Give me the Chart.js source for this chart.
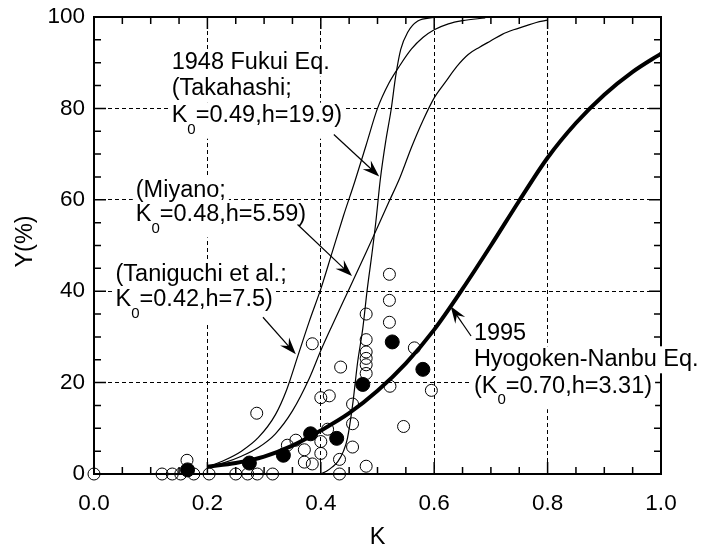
<!DOCTYPE html>
<html>
<head>
<meta charset="utf-8">
<script src="https://cdn.jsdelivr.net/npm/chart.js@4.4.0/dist/chart.umd.min.js"></script>
<style>
  html, body { margin: 0; padding: 0; background: #fff; }
  canvas { display: block; }
</style>
</head>
<body>
<canvas id="chart" width="702" height="549"></canvas>
<script>
// ===== DATA =====
const xTicks = [0, 0.2, 0.4, 0.6, 0.8, 1.0];
const xTickLabels = ['0.0', '0.2', '0.4', '0.6', '0.8', '1.0'];
const yTicks = [0, 20, 40, 60, 80, 100];
const yTickLabels = ['0', '20', '40', '60', '80', '100'];

// observed damage ratios (open = single sites, filled = averaged)
const openK = [0, 0.12, 0.138, 0.153, 0.176, 0.164, 0.203, 0.25, 0.271, 0.288, 0.315, 0.287, 0.385, 0.341, 0.356,
  0.371, 0.371, 0.385, 0.4, 0.415, 0.4, 0.4, 0.412, 0.435, 0.433, 0.433, 0.456, 0.456, 0.456,
  0.48, 0.48, 0.48, 0.48, 0.48, 0.48, 0.48, 0.521, 0.521, 0.521, 0.522, 0.546, 0.565, 0.595];
const openY = [0, 0, 0, 0, 0, 3.0, 0, 0, 0, 0, 0, 13.3, 28.5, 6.3, 7.4,
  5.3, 2.6, 2.2, 16.7, 17.1, 7.1, 4.5, 9.8, 23.4, 3.2, 0, 15.3, 11.0, 5.9,
  1.7, 35.0, 29.4, 26.7, 25.3, 23.9, 22.0, 43.7, 38.0, 33.2, 19.2, 10.4, 27.6, 18.3];
const filledK = [0.165, 0.274, 0.334, 0.382, 0.428, 0.474, 0.526, 0.58];
const filledY = [0.9, 2.4, 4.1, 8.8, 7.8, 19.6, 28.9, 22.9];

// fitted curves
const hyogoK = [0.2, 0.25, 0.3, 0.35, 0.4, 0.45, 0.5, 0.55, 0.6, 0.65, 0.7, 0.75, 0.8, 0.85, 0.9, 0.95, 1.0];
const hyogoY = [1.6, 2.4, 3.8, 6.2, 9.5, 13.3, 18.2, 24.2, 31.6, 40.5, 50, 59.8, 69.2, 76.8, 83, 88, 92];
const taniK = [0.2, 0.23, 0.26, 0.29, 0.32, 0.34, 0.36, 0.38, 0.4, 0.42, 0.44, 0.46, 0.48, 0.5, 0.52, 0.54, 0.56, 0.58, 0.6, 0.625, 0.65, 0.69];
const taniY = [1.5, 3, 5, 8, 13, 18.5, 26, 33.5, 40.5, 48.5, 56.5, 64, 72, 80, 85.5, 89.5, 93, 95.5, 97.2, 98.5, 99.2, 99.8];
const miyanoK = [0.2, 0.23, 0.26, 0.29, 0.32, 0.35, 0.38, 0.4, 0.42, 0.45, 0.48, 0.5, 0.52, 0.54, 0.56, 0.58, 0.6, 0.62, 0.64, 0.66, 0.68, 0.7, 0.72, 0.74, 0.76, 0.78, 0.8];
const miyanoY = [1.5, 2.5, 3.9, 5.8, 8.8, 13.8, 21, 27, 32.5, 40.5, 48.5, 54, 59.5, 65, 71.5, 77.3, 82.3, 85.8, 89.2, 91.8, 93.4, 94.8, 96.2, 97.2, 98, 98.8, 99.3];
const fukuiK = [0.4, 0.41, 0.42, 0.43, 0.44, 0.447, 0.456, 0.465, 0.474, 0.482, 0.49, 0.497, 0.505, 0.515, 0.524, 0.532, 0.541, 0.553, 0.571, 0.6];
const fukuiY = [0, 0.6, 1.5, 2.7, 5, 7.8, 15, 24.5, 31.8, 40.5, 48, 55.1, 64.5, 73.2, 79.7, 87, 92.9, 96.6, 99.1, 99.9];

// ===== ANNOTATIONS (data coords) =====
const notes = [
  { k: 0.137, y: 90.0, segs: ['1948 Fukui Eq.'] },
  { k: 0.137, y: 84.3, segs: ['(Takahashi;'] },
  { k: 0.137, y: 78.4, segs: ['K', { sub: '0' }, '=0.49,h=19.9)'] },
  { k: 0.0737, y: 62.0, segs: ['(Miyano;'] },
  { k: 0.0737, y: 56.8, segs: ['K', { sub: '0' }, '=0.48,h=5.59)'] },
  { k: 0.038, y: 43.7, segs: ['(Taniguchi et al.;'] },
  { k: 0.038, y: 38.2, segs: ['K', { sub: '0' }, '=0.42,h=7.5)'] },
  { k: 0.670, y: 30.8, segs: ['1995'] },
  { k: 0.670, y: 25.1, segs: ['Hyogoken-Nanbu Eq.'] },
  { k: 0.670, y: 19.2, segs: ['(K', { sub: '0' }, '=0.70,h=3.31)'] }
];
const arrows = [
  { from: [0.423, 74.3], to: [0.503, 65.1] },
  { from: [0.359, 54.6], to: [0.455, 43.3] },
  { from: [0.298, 34.3], to: [0.356, 26.2] },
  { from: [0.665, 30.2], to: [0.629, 36.7] }
];

const FONT = '23.5px "Liberation Sans", Arial, sans-serif';
const TICKFONT = '22.5px "Liberation Sans", Arial, sans-serif';
const SUBFONT = '15px "Liberation Sans", Arial, sans-serif';

const pts = (xs, ys) => xs.map((x, i) => ({ x, y: ys[i] }));

function lineWidthOf(ctx, segs) {
  let w = 0;
  segs.forEach(s => {
    ctx.font = typeof s === 'string' ? FONT : SUBFONT;
    w += ctx.measureText(typeof s === 'string' ? s : s.sub).width;
  });
  return w;
}

const figurePlugin = {
  id: 'figure',
  beforeDatasetsDraw(chart) {
    const { ctx, chartArea: a, scales: { x, y } } = chart;
    ctx.save();
    // frame
    ctx.strokeStyle = '#000';
    ctx.lineWidth = 2;
    ctx.strokeRect(a.left, a.top, a.right - a.left, a.bottom - a.top);
    // inward ticks on all four sides
    ctx.lineWidth = 1.5;
    ctx.beginPath();
    for (let i = 0; i <= 20; i++) {
      const px = x.getPixelForValue(i * 0.05);
      const len = i % 4 === 0 ? 12 : 7;
      ctx.moveTo(px, a.bottom); ctx.lineTo(px, a.bottom - len);
      ctx.moveTo(px, a.top); ctx.lineTo(px, a.top + len);
      const py = y.getPixelForValue(i * 5);
      ctx.moveTo(a.left, py); ctx.lineTo(a.left + len, py);
      ctx.moveTo(a.right, py); ctx.lineTo(a.right - len, py);
    }
    ctx.stroke();
    // white boxes behind the labels
    ctx.fillStyle = '#fff';
    notes.forEach(n => {
      const px = x.getPixelForValue(n.k), py = y.getPixelForValue(n.y);
      const w = lineWidthOf(ctx, n.segs);
      const hasSub = n.segs.some(s => typeof s !== 'string');
      ctx.fillRect(px - 3, py - 13, w + 6, hasSub ? 36 : 27);
    });
    ctx.restore();
  },
  afterDatasetsDraw(chart) {
    const { ctx, chartArea: a, scales: { x, y } } = chart;
    ctx.save();
    ctx.fillStyle = '#000';
    ctx.strokeStyle = '#000';
    ctx.textBaseline = 'middle';

    // annotation text
    notes.forEach(n => {
      let cx = x.getPixelForValue(n.k);
      const py = y.getPixelForValue(n.y);
      ctx.textAlign = 'left';
      n.segs.forEach(s => {
        if (typeof s === 'string') {
          ctx.font = FONT;
          ctx.fillText(s, cx, py);
          cx += ctx.measureText(s).width;
        } else {
          ctx.font = SUBFONT;
          ctx.fillText(s.sub, cx, py + 14);
          cx += ctx.measureText(s.sub).width;
        }
      });
    });

    // arrows
    arrows.forEach(ar => {
      const x0 = x.getPixelForValue(ar.from[0]), y0 = y.getPixelForValue(ar.from[1]);
      const x1 = x.getPixelForValue(ar.to[0]), y1 = y.getPixelForValue(ar.to[1]);
      const ang = Math.atan2(y1 - y0, x1 - x0);
      ctx.lineWidth = 1.2;
      ctx.beginPath();
      ctx.moveTo(x0, y0);
      ctx.lineTo(x1 - 8 * Math.cos(ang), y1 - 8 * Math.sin(ang));
      ctx.stroke();
      const L = 17, W = 6, N = 11;
      const c = Math.cos(ang), s = Math.sin(ang);
      ctx.beginPath();
      ctx.moveTo(x1, y1);
      ctx.lineTo(x1 - L * c - W * s, y1 - L * s + W * c);
      ctx.lineTo(x1 - N * c, y1 - N * s);
      ctx.lineTo(x1 - L * c + W * s, y1 - L * s - W * c);
      ctx.closePath();
      ctx.fill();
    });

    // tick labels
    ctx.font = TICKFONT;
    ctx.textAlign = 'center';
    xTicks.forEach((v, i) => ctx.fillText(xTickLabels[i], x.getPixelForValue(v), a.bottom + 30));
    ctx.textAlign = 'right';
    yTicks.forEach((v, i) => ctx.fillText(yTickLabels[i], a.left - 9, y.getPixelForValue(v)));

    // axis titles
    ctx.font = FONT;
    ctx.textAlign = 'center';
    ctx.fillText('K', (a.left + a.right) / 2, a.bottom + 64);
    ctx.translate(26, (a.top + a.bottom) / 2 - 4);
    ctx.rotate(-Math.PI / 2);
    ctx.fillText('Y(%)', 0, 0);
    ctx.restore();
  }
};

const interior = (v, lo, hi) => v > lo + 1e-6 && v < hi - 1e-6;
const curve = (data, w) => ({
  type: 'line', data, borderColor: '#000', borderWidth: w, pointRadius: 0,
  fill: false, cubicInterpolationMode: 'monotone', clip: false
});

new Chart(document.getElementById('chart'), {
  type: 'scatter',
  data: {
    datasets: [
      { data: pts(filledK, filledY), pointRadius: 7, pointBackgroundColor: '#000', pointBorderColor: '#000', pointBorderWidth: 1, clip: false },
      { data: pts(openK, openY), pointRadius: 6, pointBackgroundColor: 'rgba(0,0,0,0)', pointBorderColor: '#000', pointBorderWidth: 1, clip: false },
      curve(pts(hyogoK, hyogoY), 4),
      curve(pts(fukuiK, fukuiY), 1.2),
      curve(pts(miyanoK, miyanoY), 1.2),
      curve(pts(taniK, taniY), 1.2)
    ]
  },
  options: {
    responsive: false,
    animation: false,
    events: [],
    layout: { padding: { left: 94, right: 41, top: 17, bottom: 75 } },
    plugins: { legend: { display: false }, tooltip: { enabled: false } },
    scales: {
      x: {
        type: 'linear', min: 0, max: 1,
        ticks: { stepSize: 0.2, display: false },
        grid: { drawTicks: false, lineWidth: 1, color: c => interior(c.tick.value, 0, 1) ? '#000' : 'rgba(0,0,0,0)' },
        border: { display: false, dash: [4, 3] }
      },
      y: {
        type: 'linear', min: 0, max: 100,
        ticks: { stepSize: 20, display: false },
        grid: { drawTicks: false, lineWidth: 1, color: c => interior(c.tick.value, 0, 100) ? '#000' : 'rgba(0,0,0,0)' },
        border: { display: false, dash: [4, 3] }
      }
    }
  },
  plugins: [figurePlugin]
});
</script>
</body>
</html>
